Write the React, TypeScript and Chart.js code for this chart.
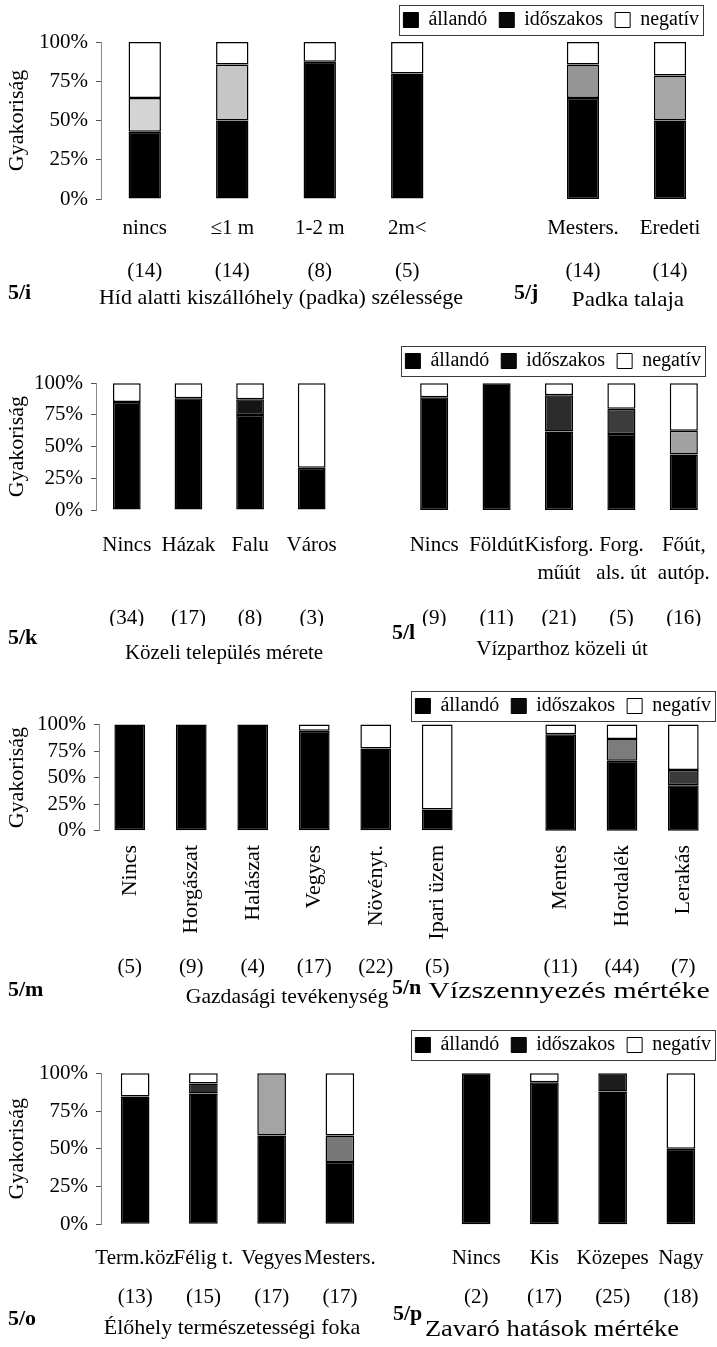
import React, { useEffect, useRef } from 'react';
import { Chart, registerables } from 'chart.js';

Chart.register(...registerables);

const FONT = "'Liberation Serif', 'Times New Roman', serif";

const SERIES = ['állandó', 'időszakos', 'negatív'];
const LEGEND_SWATCH = ['#000000', '#0a0a0a', '#ffffff'];
const Y_TITLE = 'Gyakoriság';
const Y_MAX = 100;
const Y_STEP = 25;

// 5/i  Híd alatti kiszállóhely (padka) szélessége
const catI = ['nincs', '≤1 m', '1-2 m', '2m<'];
const countI = [14, 14, 8, 5];
const allandoI = [42.9, 50, 87.5, 80];
const idoszakosI = [21.4, 35.7, 0, 0];
const negativI = [35.7, 14.3, 12.5, 20];

// 5/j  Padka talaja
const catJ = ['Mesters.', 'Eredeti'];
const countJ = [14, 14];
const allandoJ = [64.3, 50];
const idoszakosJ = [21.4, 28.6];
const negativJ = [14.3, 21.4];

// 5/k  Közeli település mérete
const catK = ['Nincs', 'Házak', 'Falu', 'Város'];
const countK = [34, 17, 8, 3];
const allandoK = [85.3, 88.2, 75, 33.3];
const idoszakosK = [0, 0, 12.5, 0];
const negativK = [14.7, 11.8, 12.5, 66.7];

// 5/l  Vízparthoz közeli út
const catL = [['Nincs'], ['Földút'], ['Kisforg.', 'műút'], ['Forg.', 'als. út'], ['Főút,', 'autóp.']];
const countL = [9, 11, 21, 5, 16];
const allandoL = [88.9, 100, 61.9, 60, 43.75];
const idoszakosL = [0, 0, 28.6, 20, 18.75];
const negativL = [11.1, 0, 9.5, 20, 37.5];

// 5/m  Gazdasági tevékenység
const catM = ['Nincs', 'Horgászat', 'Halászat', 'Vegyes', 'Növényt.', 'Ipari üzem'];
const countM = [5, 9, 4, 17, 22, 5];
const allandoM = [100, 100, 100, 94.1, 77.3, 20];
const idoszakosM = [0, 0, 0, 0, 0, 0];
const negativM = [0, 0, 0, 5.9, 22.7, 80];

// 5/n  Vízszennyezés mértéke
const catN = ['Mentes', 'Hordalék', 'Lerakás'];
const countN = [11, 44, 7];
const allandoN = [90.9, 65.9, 42.8];
const idoszakosN = [0, 20.5, 14.3];
const negativN = [9.1, 13.6, 42.9];

// 5/o  Élőhely természetességi foka
const catO = ['Term.köz', 'Félig t.', 'Vegyes', 'Mesters.'];
const countO = [13, 15, 17, 17];
const allandoO = [84.6, 86.6, 58.8, 41.2];
const idoszakosO = [0, 6.7, 41.2, 17.6];
const negativO = [15.4, 6.7, 0, 41.2];

// 5/p  Zavaró hatások mértéke
const catP = ['Nincs', 'Kis', 'Közepes', 'Nagy'];
const countP = [2, 17, 25, 18];
const allandoP = [100, 94.1, 88, 50];
const idoszakosP = [0, 0, 12, 0];
const negativP = [0, 5.9, 0, 50];

// shading of the "időszakos" segment per bar (scan tone)
const shadeI = ['#d4d4d4', '#c6c6c6', '#c6c6c6', '#c6c6c6'];
const shadeJ = ['#959595', '#a6a6a6'];
const shadeK = ['#151515', '#151515', '#151515', '#151515'];
const shadeL = ['#2c2c2c', '#2c2c2c', '#2c2c2c', '#3c3c3c', '#a2a2a2'];
const shadeM = ['#333', '#333', '#333', '#333', '#333', '#333'];
const shadeN = ['#555', '#7c7c7c', '#3a3a3a'];
const shadeO = ['#333', '#2e2e2e', '#a4a4a4', '#787878'];
const shadeP = ['#1c1c1c', '#1c1c1c', '#1c1c1c', '#1c1c1c'];

type Row = {
  top: number; bottom: number; plotTop: number; plotBottom: number;
  labelPad: number; labelH: number; labelSize: number; labelLH: number; rotate: boolean;
  countPad: number; countH: number; legendY: number; frameRight: number;
};

const ROWS: Row[] = [
  { top: 0, bottom: 286, plotTop: 42, plotBottom: 199, labelPad: 16.4, labelH: 48, labelSize: 21, labelLH: 1.2, rotate: false, countPad: 11.4, countH: 36, legendY: 20, frameRight: 703 },
  { top: 340, bottom: 640, plotTop: 383.3, plotBottom: 510, labelPad: 22.3, labelH: 80, labelSize: 21, labelLH: 1.3, rotate: false, countPad: 15.4, countH: 36, legendY: 361, frameRight: 705 },
  { top: 680, bottom: 990, plotTop: 724.5, plotBottom: 830.7, labelPad: 14.3, labelH: 115, labelSize: 22, labelLH: 1.2, rotate: true, countPad: 8.7, countH: 36, legendY: 706, frameRight: 715 },
  { top: 1025, bottom: 1316, plotTop: 1073.3, plotBottom: 1224.3, labelPad: 21.1, labelH: 50, labelSize: 21, labelLH: 1.2, rotate: false, countPad: 10.1, countH: 36, legendY: 1045, frameRight: 715 },
];

type PanelDef = {
  id: string; row: number; left: number; right: number; areaLeft: number; areaRight: number;
  showY: boolean; legend: boolean; barPct: number;
  cats: any[]; counts: number[]; a: number[]; b: number[]; c: number[]; shade: string[];
};

const PANELS: PanelDef[] = [
  { id: 'i', row: 0, left: 0, right: 452, areaLeft: 101, areaRight: 451, showY: true, legend: false, barPct: 0.37, cats: catI, counts: countI, a: allandoI, b: idoszakosI, c: negativI, shade: shadeI },
  { id: 'j', row: 0, left: 380, right: 717, areaLeft: 539.5, areaRight: 713.5, showY: false, legend: true, barPct: 0.37, cats: catJ, counts: countJ, a: allandoJ, b: idoszakosJ, c: negativJ, shade: shadeJ },
  { id: 'k', row: 1, left: 0, right: 343, areaLeft: 96, areaRight: 342.5, showY: true, legend: false, barPct: 0.45, cats: catK, counts: countK, a: allandoK, b: idoszakosK, c: negativK, shade: shadeK },
  { id: 'l', row: 1, left: 380, right: 717, areaLeft: 403, areaRight: 715, showY: false, legend: true, barPct: 0.45, cats: catL, counts: countL, a: allandoL, b: idoszakosL, c: negativL, shade: shadeL },
  { id: 'm', row: 2, left: 0, right: 469, areaLeft: 99, areaRight: 468, showY: true, legend: false, barPct: 0.5, cats: catM, counts: countM, a: allandoM, b: idoszakosM, c: negativM, shade: shadeM },
  { id: 'n', row: 2, left: 380, right: 717, areaLeft: 530, areaRight: 714, showY: false, legend: true, barPct: 0.5, cats: catN, counts: countN, a: allandoN, b: idoszakosN, c: negativN, shade: shadeN },
  { id: 'o', row: 3, left: 0, right: 375, areaLeft: 101, areaRight: 374, showY: true, legend: false, barPct: 0.42, cats: catO, counts: countO, a: allandoO, b: idoszakosO, c: negativO, shade: shadeO },
  { id: 'p', row: 3, left: 380, right: 717, areaLeft: 442, areaRight: 715, showY: false, legend: true, barPct: 0.42, cats: catP, counts: countP, a: allandoP, b: idoszakosP, c: negativP, shade: shadeP },
];

const TAGS = [
  { text: '5/i', x: 8, y: 292 },
  { text: '5/j', x: 514, y: 292 },
  { text: '5/k', x: 8, y: 637 },
  { text: '5/l', x: 392, y: 632 },
  { text: '5/m', x: 8, y: 989 },
  { text: '5/n', x: 392, y: 987 },
  { text: '5/o', x: 8, y: 1318 },
  { text: '5/p', x: 393, y: 1313 },
];

const TITLES = [
  { text: 'Híd alatti kiszállóhely (padka) szélessége', x: 281, y: 297, size: 22, sx: 1 },
  { text: 'Padka talaja', x: 628, y: 299, size: 22, sx: 1.05 },
  { text: 'Közeli település mérete', x: 224, y: 652, size: 21, sx: 1 },
  { text: 'Vízparthoz közeli út', x: 562, y: 648, size: 21, sx: 1 },
  { text: 'Gazdasági tevékenység', x: 287, y: 996, size: 21, sx: 1.03 },
  { text: 'Vízszennyezés mértéke', x: 569, y: 990, size: 23, sx: 1.3 },
  { text: 'Élőhely természetességi foka', x: 232, y: 1327, size: 22, sx: 1 },
  { text: 'Zavaró hatások mértéke', x: 552, y: 1328, size: 23, sx: 1.15 },
];

const legendFramePlugin = {
  id: 'legendFrame',
  beforeInit(chart: any, _args: any, opts: any) {
    const lg = chart.legend;
    if (!lg) return;
    const hh = opts.height;
    const fit = lg.fit;
    lg.fit = function () {
      fit.call(this);
      this.height = hh;
    };
  },
  afterLayout(chart: any, _args: any, opts: any) {
    const lg = chart.legend;
    if (!lg) return;
    lg.top = opts.top;
    lg.bottom = opts.top + 46;
    lg.right = opts.right;
  },
  afterDraw(chart: any) {
    const lg = chart.legend;
    if (!lg || !lg.lineWidths) return;
    const pad = lg.options.labels.padding;
    const ctx = chart.ctx;
    const x0 = Math.round(lg.right - lg.lineWidths[0] - 4);
    const x1 = Math.round(lg.right - pad + 4);
    const cy = lg.top + pad + 10;
    ctx.save();
    ctx.strokeStyle = '#3a3a3a';
    ctx.lineWidth = 1;
    ctx.strokeRect(x0 + 0.5, Math.round(cy - 15) + 0.5, x1 - x0, 30);
    ctx.restore();
  },
};

function makeConfig(p: PanelDef): any {
  const row = ROWS[p.row];
  const yW = p.areaLeft - p.left;
  const plotTopOff = row.plotTop - row.top;
  const padBottom = row.bottom - row.plotBottom - row.labelH - row.countH;
  const rot = row.rotate ? 90 : 0;
  const ds = (label: string, data: number[], bg: any) => ({
    label, data, backgroundColor: bg, borderColor: '#000', borderWidth: 1.5, borderSkipped: false,
    barPercentage: p.barPct, categoryPercentage: 1, xAxisID: 'x', yAxisID: 'y', clip: false,
  });
  return {
    type: 'bar',
    data: {
      labels: p.cats,
      datasets: [ds(SERIES[0], p.a, '#000000'), ds(SERIES[1], p.b, p.shade), ds(SERIES[2], p.c, '#ffffff')],
    },
    options: {
      responsive: false,
      animation: false,
      devicePixelRatio: 1,
      events: [],
      layout: {
        autoPadding: false,
        padding: { left: 0, right: p.right - p.areaRight, top: p.legend ? 0 : plotTopOff, bottom: padBottom },
      },
      plugins: {
        tooltip: { enabled: false },
        legend: p.legend
          ? {
              display: true,
              position: 'top',
              align: 'end',
              labels: {
                boxWidth: 15,
                boxHeight: 15,
                padding: 12,
                color: '#000',
                font: { family: FONT, size: 20 },
                generateLabels: (chart: any) =>
                  chart.data.datasets.map((d: any, i: number) => ({
                    text: d.label,
                    fillStyle: LEGEND_SWATCH[i],
                    strokeStyle: '#000',
                    lineWidth: 1,
                    hidden: false,
                    datasetIndex: i,
                    fontColor: '#000',
                  })),
              },
            }
          : { display: false },
        legendFrame: {
          height: plotTopOff,
          top: row.legendY - row.top - 22,
          right: row.frameRight - p.left + 12 - 4,
        },
      },
      scales: {
        x: {
          type: 'category',
          stacked: true,
          offset: true,
          position: 'bottom',
          weight: 0,
          grid: { display: false, drawTicks: false },
          border: { display: false },
          ticks: {
            autoSkip: false,
            minRotation: rot,
            maxRotation: rot,
            padding: row.labelPad,
            color: '#000',
            font: { family: FONT, size: row.labelSize, lineHeight: row.labelLH },
          },
          afterFit: (s: any) => {
            s.height = row.labelH;
            s.paddingLeft = 0;
            s.paddingRight = 0;
          },
        },
        xc: {
          type: 'category',
          labels: p.counts.map((n) => `(${n})`),
          offset: true,
          position: 'bottom',
          weight: 1,
          grid: { display: false, drawTicks: false },
          border: { display: false },
          ticks: {
            autoSkip: false,
            minRotation: 0,
            maxRotation: 0,
            padding: row.countPad,
            color: '#000',
            font: { family: FONT, size: 21, lineHeight: 1.2 },
          },
          afterFit: (s: any) => {
            s.height = row.countH;
            s.paddingLeft = 0;
            s.paddingRight = 0;
          },
        },
        y: {
          type: 'linear',
          stacked: true,
          min: 0,
          max: Y_MAX,
          position: 'left',
          display: true,
          ticks: {
            display: p.showY,
            autoSkip: false,
            stepSize: Y_STEP,
            padding: 8,
            color: '#000',
            font: { family: FONT, size: 21 },
            callback: (v: any) => `${v}%`,
          },
          grid: { display: p.showY, drawOnChartArea: false, tickLength: 5, color: '#555', lineWidth: 1 },
          border: { display: p.showY, color: '#8a8a8a', width: 1 },
          title: {
            display: p.showY,
            text: Y_TITLE,
            color: '#000',
            font: { family: FONT, size: 22 },
            padding: { top: 4, bottom: 0 },
          },
          afterFit: (s: any) => {
            s.width = yW;
            s.paddingTop = 0;
            s.paddingBottom = 0;
          },
        },
      },
    },
    plugins: p.legend ? [legendFramePlugin] : [],
  };
}

function Panel({ cfg }: { cfg: PanelDef }) {
  const ref = useRef<HTMLCanvasElement>(null);
  const row = ROWS[cfg.row];
  const w = cfg.right - cfg.left;
  const h = row.bottom - row.top;
  useEffect(() => {
    if (!ref.current) return;
    const chart = new Chart(ref.current, makeConfig(cfg));
    return () => chart.destroy();
  }, [cfg]);
  return (
    <canvas
      ref={ref}
      width={w}
      height={h}
      style={{ position: 'absolute', left: cfg.left, top: row.top, width: w, height: h }}
    />
  );
}

export default function App() {
  return (
    <div
      style={{
        position: 'absolute',
        left: 0,
        top: 0,
        width: 717,
        height: 1347,
        background: '#fff',
        overflow: 'hidden',
        color: '#000',
      }}
    >
      {PANELS.map((p) => (
        <Panel key={p.id} cfg={p} />
      ))}
      {TAGS.map((t) => (
        <div
          key={t.text}
          style={{
            position: 'absolute',
            left: t.x,
            top: t.y,
            transform: 'translateY(-50%)',
            font: `bold 22px ${FONT}`,
            lineHeight: 1,
            whiteSpace: 'nowrap',
          }}
        >
          {t.text}
        </div>
      ))}
      {TITLES.map((t) => (
        <div
          key={t.text}
          style={{
            position: 'absolute',
            left: t.x,
            top: t.y,
            transform: `translate(-50%, -50%) scaleX(${t.sx})`,
            font: `${t.size}px ${FONT}`,
            lineHeight: 1,
            whiteSpace: 'nowrap',
          }}
        >
          {t.text}
        </div>
      ))}
    </div>
  );
}
